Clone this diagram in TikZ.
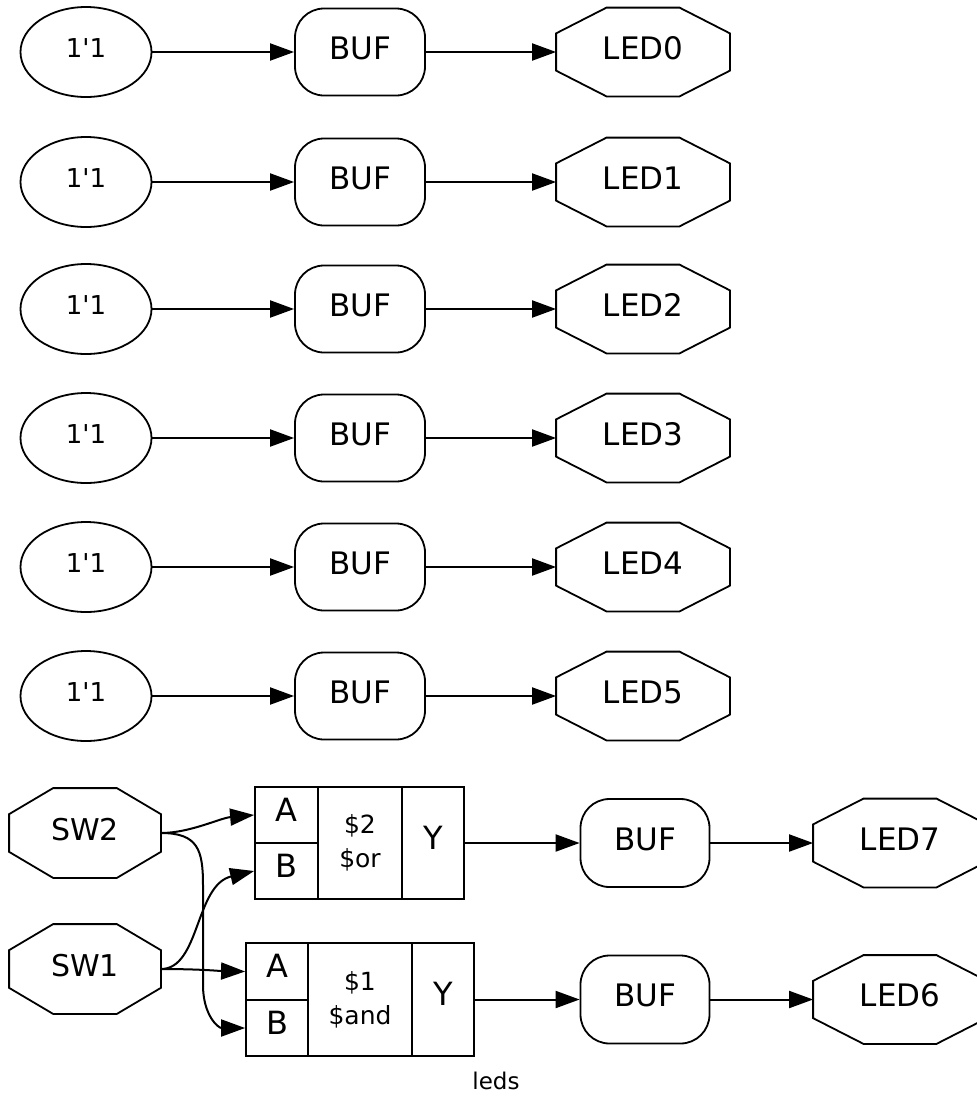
\documentclass[tikz,border=0pt]{standalone}
\usepackage{fontspec}
\setmainfont{DejaVu Sans}
\usetikzlibrary{arrows.meta,calc,shapes.geometric}
\begin{document}
\begin{tikzpicture}[x=1pt,y=-1pt, line width=1.8pt,
 lbl/.style={font=\fontsize{31}{31}\selectfont, text height=23pt, text depth=9pt},
 const/.style={ellipse, draw, minimum width=131pt, minimum height=90pt, inner sep=0pt, font=\fontsize{26}{26}\selectfont, text height=19pt, text depth=8pt},
 buf/.style={rectangle, rounded corners=29pt, draw, minimum width=130pt, minimum height=87pt, inner sep=0pt, lbl},
 port/.style={rectangle, minimum width=172pt, minimum height=87pt, inner sep=0pt, lbl},
 cell/.style={rectangle, draw, inner sep=0pt, font=\fontsize{32}{32}\selectfont, text height=23pt, text depth=11pt},
 mid/.style={rectangle, draw, inner sep=0pt, font=\fontsize{25}{34}\selectfont, align=center},
 wire/.style={-{Triangle[length=24pt,width=17pt]}, line width=2pt}
]
\useasboundingbox (0,0) rectangle (977,1096);
% top rows
\foreach \i/\y in {0/52,1/182,2/309,3/438,4/567,5/696}{
  \node[const] (c\i) at (86,\y) {1\textquotesingle 1};
  \node[buf] (b\i) at (360,\y) {BUF};
  \node[port] (l\i) at (643,\y) {LED\i};
  \draw[wire] (c\i.east) -- (b\i.west);
  \draw[wire] (b\i.east) -- (l\i.west);
}
% switches
\node[port, minimum width=150pt, minimum height=88pt, font=\fontsize{30}{30}\selectfont] (sw2) at (85,833) {SW2};
\node[port, minimum width=150pt, minimum height=88pt, font=\fontsize{30}{30}\selectfont] (sw1) at (85,969) {SW1};
% $or cell
\node[cell, minimum width=63pt, minimum height=56pt] (orA) at (286.5,815) {A};
\node[cell, minimum width=63pt, minimum height=56pt] (orB) at (286.5,871) {B};
\node[mid, minimum width=84pt, minimum height=112pt] (orM) at (360,843) {\$2\\\$or};
\node[cell, minimum width=62pt, minimum height=112pt] (orY) at (433,843) {Y};
% $and cell
\node[cell, minimum width=62pt, minimum height=57pt] (andA) at (277,971.5) {A};
\node[cell, minimum width=62pt, minimum height=56pt] (andB) at (277,1028) {B};
\node[mid, minimum width=104pt, minimum height=113pt] (andM) at (360,999.5) {\$1\\\$and};
\node[cell, minimum width=62pt, minimum height=113pt] (andY) at (443,999.5) {Y};
% buffers and leds at bottom
\node[buf, minimum width=129pt, minimum height=88pt] (b7) at (645,843) {BUF};
\node[port] (l7) at (900,843) {LED7};
\node[buf, minimum width=129pt, minimum height=88pt] (b6) at (645,999.5) {BUF};
\node[port] (l6) at (900,999.5) {LED6};
\node[font=\fontsize{23}{23}\selectfont] (title) at (496,1081) {leds};
% octagon outlines
\foreach \n in {l0,l1,l2,l3,l4,l5,l6,l7,sw1,sw2}{
  \draw ($(\n.north west)!0.29!(\n.north east)$) -- ($(\n.north east)!0.29!(\n.north west)$)
     -- ($(\n.east)!0.42!(\n.north east)$) -- ($(\n.east)!0.42!(\n.south east)$)
     -- ($(\n.south east)!0.29!(\n.south west)$) -- ($(\n.south west)!0.29!(\n.south east)$)
     -- ($(\n.west)!0.42!(\n.south west)$) -- ($(\n.west)!0.42!(\n.north west)$) -- cycle;
}
% connectors
\draw[wire] (sw2.east) .. controls (190,833) and (220,818) .. (orA.west);
\draw[wire] (sw2.east) .. controls (198,833) and (203,850) .. (203,885) -- (203,985) .. controls (203,1015) and (218,1028) .. (andB.west);
\draw[wire] (sw1.east) .. controls (200,969) and (195,885) .. (orB.west);
\draw[wire] (sw1.east) .. controls (200,969) and (220,971) .. (andA.west);
\draw[wire] (orY.east) -- (b7.west);
\draw[wire] (b7.east) -- (l7.west);
\draw[wire] (andY.east) -- (b6.west);
\draw[wire] (b6.east) -- (l6.west);
\end{tikzpicture}
\end{document}
